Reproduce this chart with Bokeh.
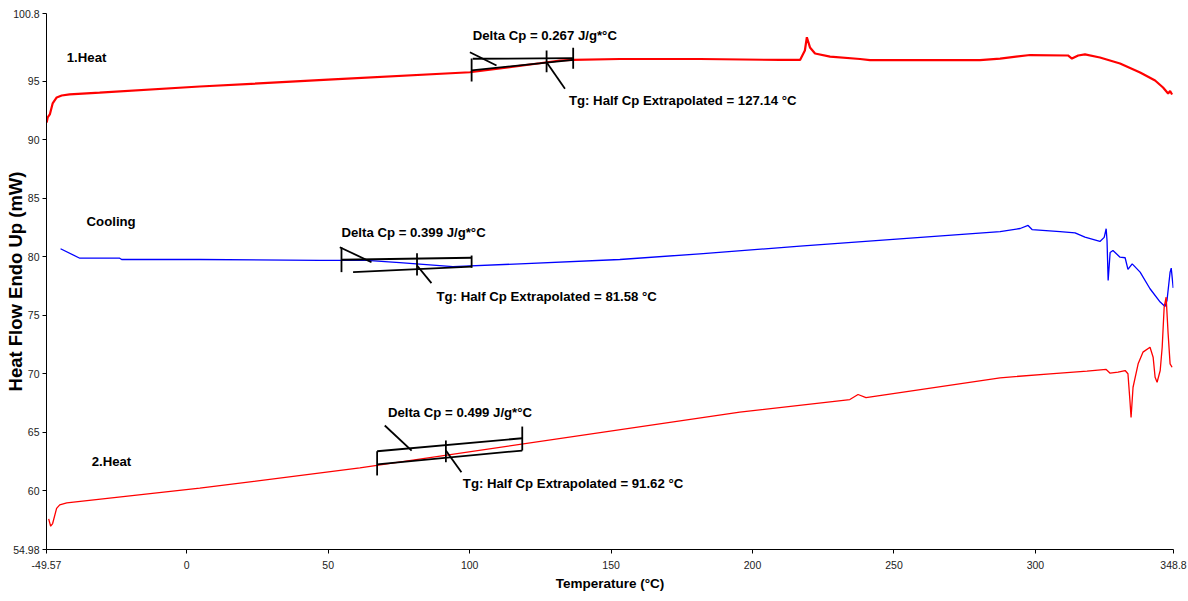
from bokeh.plotting import figure
from bokeh.models import Range1d, FixedTicker, ColumnDataSource
from bokeh.core.properties import value
from bokeh.embed import file_html
from bokeh.resources import INLINE

# ---------------- data ----------------
heat1_T = [-49.5, -49.15, -48.4, -47.4, -45.96, -44.2, -41.4, -30.8, 4.6, 50.0, 100.1, 124.8,
           131.9, 136.5, 153.1, 181.4, 209.7, 216.8, 218.5, 219.2, 220.3, 222.1, 227.4, 238.0,
           241.5, 280.4, 287.5, 298.1, 311.5, 312.9, 315.1, 317.5, 322.8, 329.9, 337.0, 342.3,
           345.1, 346.9, 347.6, 348.3]
heat1_Y = [91.48, 91.91, 92.17, 93.11, 93.62, 93.79, 93.88, 94.03, 94.56, 95.14, 95.78, 96.55,
           96.78, 96.84, 96.91, 96.91, 96.83, 96.83, 97.64, 98.77, 97.90, 97.38, 97.12, 96.91,
           96.81, 96.81, 96.95, 97.25, 97.21, 96.95, 97.21, 97.30, 97.04, 96.53, 95.76, 95.07,
           94.47, 93.96, 94.17, 93.88]

cool_T = [-44.6, -37.8, -23.7, -23.0, 4.6, 47.0, 63.6, 75.3, 94.1, 117.8, 153.1, 181.4, 216.8,
          252.1, 287.5, 294.6, 297.4, 298.8, 308.7, 314.0, 317.5, 322.8, 324.3, 325.0, 325.3,
          325.7, 326.4, 327.4, 329.9, 331.7, 332.7, 334.2, 337.0, 340.5, 344.1, 345.8, 346.5,
          347.6, 348.0, 348.7]
cool_Y = [80.69, 79.88, 79.88, 79.77, 79.77, 79.69, 79.69, 79.51, 79.17, 79.40, 79.77, 80.26,
          80.91, 81.54, 82.16, 82.42, 82.68, 82.33, 82.16, 82.05, 81.68, 81.31, 81.66, 82.40,
          81.40, 77.98, 80.37, 80.54, 79.97, 79.92, 78.92, 79.40, 78.69, 77.27, 76.13, 75.75,
          76.27, 78.69, 79.03, 77.35]

heat2_T = [-48.8, -48.1, -47.4, -46.0, -44.9, -42.4, 4.6, 61.2, 195.5, 234.4, 237.3, 240.1,
           287.5, 305.2, 318.2, 325.0, 326.4, 329.2, 331.7, 332.7, 333.4, 333.8, 334.5, 336.3,
           338.0, 340.5, 341.6, 342.3, 343.0, 344.1, 344.8, 345.5, 346.2, 346.9, 347.6, 348.3]
heat2_Y = [57.60, 56.97, 57.20, 58.49, 58.80, 58.97, 60.22, 61.96, 66.72, 67.80, 68.23, 67.97,
           69.66, 70.00, 70.22, 70.37, 70.05, 70.14, 70.28, 70.00, 67.72, 66.26, 68.85, 70.85,
           71.85, 72.27, 71.42, 69.71, 69.28, 70.28, 72.27, 75.69, 76.55, 73.42, 70.85, 70.56]

# Tg analysis construction lines (tangents, limits, pointers)
ann_x0 = [101.1, 100.7, 100.7, 127.2, 136.6, 100.1, 127.2,
          54.7, 58.8, 54.7, 81.4, 100.7, 54.1, 81.4,
          67.3, 67.3, 67.3, 91.6, 118.6, 70.0, 91.6]
ann_y0 = [96.93, 95.93, 96.95, 97.64, 97.87, 97.49, 96.64,
          79.75, 78.69, 80.82, 80.31, 80.11, 80.82, 79.26,
          63.38, 62.25, 63.38, 64.30, 65.49, 65.58, 63.44]
ann_x1 = [136.5, 136.6, 100.7, 127.2, 136.6, 109.5, 133.7,
          100.7, 100.7, 54.7, 81.4, 100.7, 65.3, 86.5,
          118.6, 118.6, 67.3, 91.6, 118.6, 79.5, 97.1]
ann_y1 = [96.98, 96.84, 94.99, 95.78, 96.07, 96.35, 94.36,
          79.92, 79.17, 78.69, 78.40, 79.06, 79.54, 77.75,
          64.49, 63.44, 61.31, 62.44, 63.44, 63.44, 61.59]

label_text = ["1.Heat", "Cooling", "2.Heat",
              "Delta Cp = 0.267 J/g*°C", "Tg: Half Cp Extrapolated = 127.14 °C",
              "Delta Cp = 0.399 J/g*°C", "Tg: Half Cp Extrapolated = 81.58 °C",
              "Delta Cp = 0.499 J/g*°C", "Tg: Half Cp Extrapolated = 91.62 °C"]
label_x = [-42.4, -35.4, -33.6, 101.1, 135.1, 54.7, 88.3, 71.1, 97.6]
label_y = [97.04, 83.06, 62.46, 98.92, 93.36, 82.04, 76.61, 66.73, 60.58]

x_ticks = [-49.57, 0, 50, 100, 150, 200, 250, 300, 348.8]
x_tick_labels = ["-49.57", "0", "50", "100", "150", "200", "250", "300", "348.8"]
y_ticks = [54.98, 60, 65, 70, 75, 80, 85, 90, 95, 100.8]
y_tick_labels = ["54.98", "60", "65", "70", "75", "80", "85", "90", "95", "100.8"]

FONT = "Liberation Sans"

# ---------------- figure ----------------
p = figure(width=1188, height=601, output_backend="svg", toolbar_location=None,
           x_range=Range1d(x_ticks[0], x_ticks[-1]), y_range=Range1d(y_ticks[0], y_ticks[-1]),
           min_border_left=46, min_border_right=15, min_border_top=13, min_border_bottom=52)
p.outline_line_color = None
p.grid.visible = False
p.background_fill_color = "white"
p.border_fill_color = "white"

p.xaxis.ticker = FixedTicker(ticks=x_ticks)
p.xaxis.major_label_overrides = {t: l for t, l in zip(x_ticks, x_tick_labels)}
p.yaxis.ticker = FixedTicker(ticks=y_ticks)
p.yaxis.major_label_overrides = {t: l for t, l in zip(y_ticks, y_tick_labels)}

for ax in (p.xaxis[0], p.yaxis[0]):
    ax.axis_line_color = "black"
    ax.axis_line_width = 1
    ax.major_tick_line_color = "black"
    ax.major_tick_out = 4
    ax.major_tick_in = 0
    ax.minor_tick_line_color = None
    ax.major_label_text_font = FONT
    ax.major_label_text_font_size = "10.5px"
    ax.major_label_text_color = "#222222"
    ax.axis_label_text_color = "black"
    ax.axis_label_text_font_style = "bold"

p.xaxis.major_label_standoff = 7
p.xaxis.axis_label = "Temperature (°C)"
p.xaxis.axis_label_text_font = FONT
p.xaxis.axis_label_text_font_size = "13.5px"
p.xaxis.axis_label_standoff = 4

p.yaxis.major_label_standoff = 3
p.yaxis.axis_label = "Heat Flow Endo Up (mW)"
p.yaxis.axis_label_text_font = FONT
p.yaxis.axis_label_text_font_size = "18.5px"
p.yaxis.axis_label_standoff = -16

# curves
p.line(heat1_T, heat1_Y, line_color="#FF0000", line_width=2.2)
p.line(cool_T, cool_Y, line_color="#0000FF", line_width=1.3)
p.line(heat2_T, heat2_Y, line_color="#FF0000", line_width=1.3)

# analysis lines
p.segment(x0=ann_x0, y0=ann_y0, x1=ann_x1, y1=ann_y1, line_color="black", line_width=1.8)

# texts
src = ColumnDataSource(dict(x=label_x, y=label_y, text=label_text))
p.text(x="x", y="y", text="text", source=src, text_align="left", text_baseline="middle",
       text_font=value(FONT), text_font_style="bold", text_font_size="13.2px",
       text_color="black")

open("out.html", "w").write(file_html(p, INLINE))
